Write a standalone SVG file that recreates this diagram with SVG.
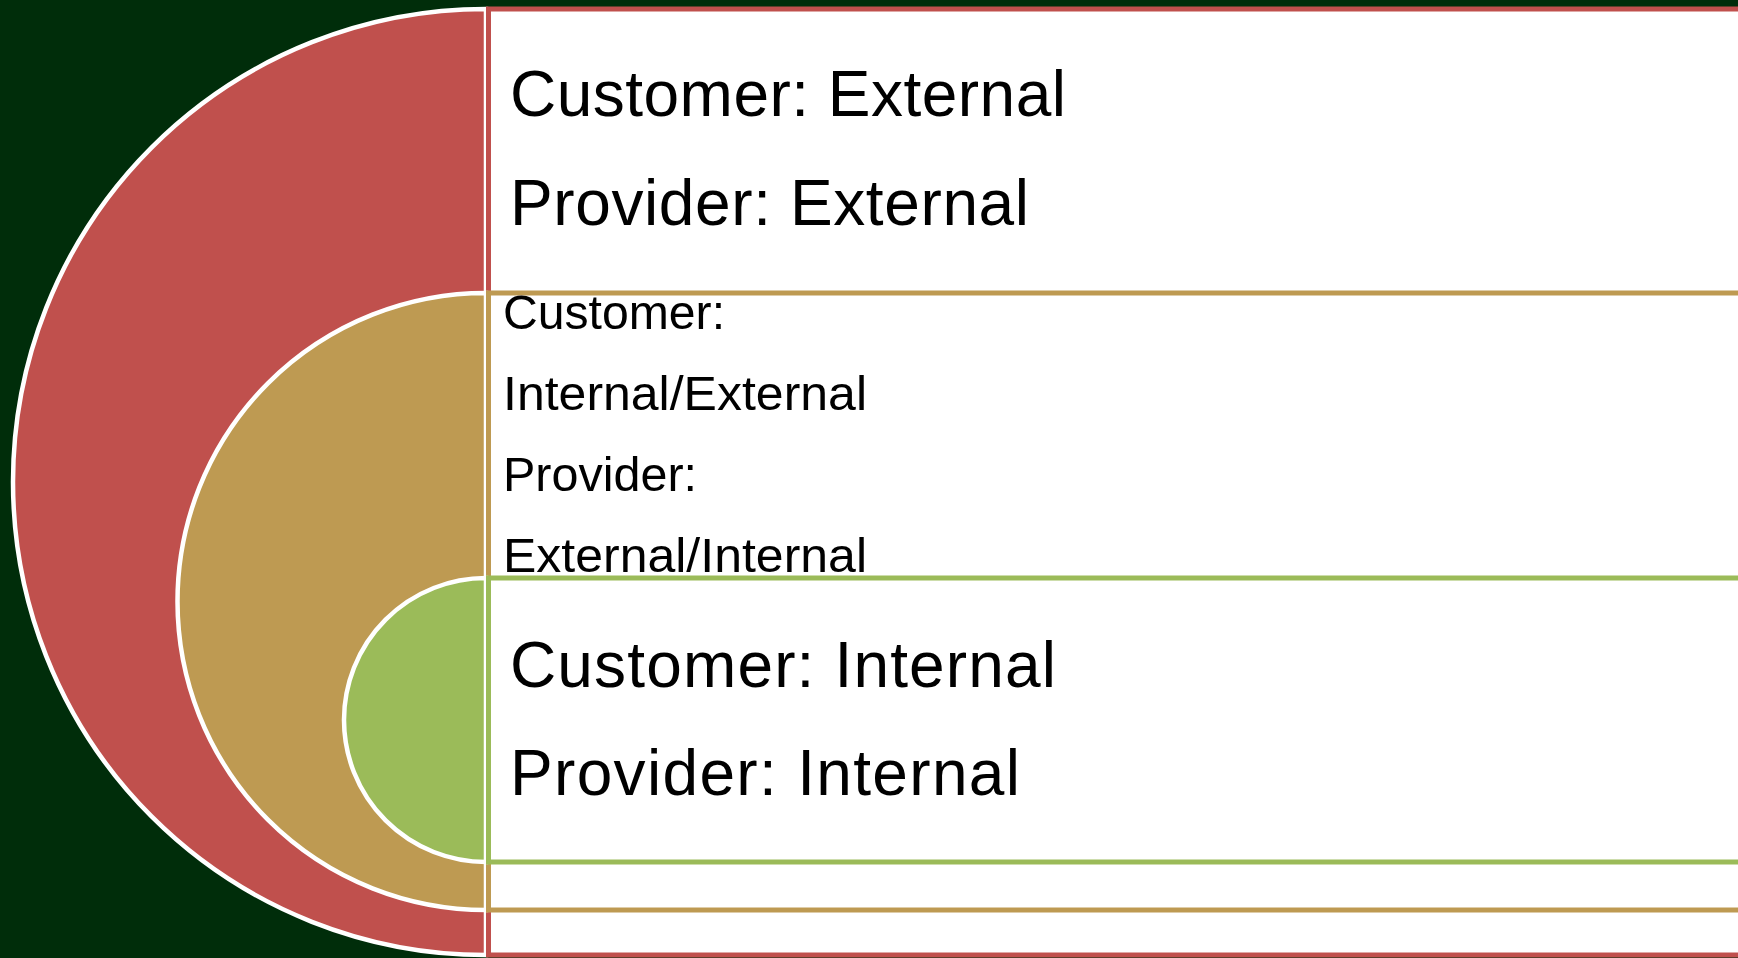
<svg xmlns="http://www.w3.org/2000/svg" width="1738" height="958" viewBox="0 0 1738 958">
<style>
.arc{stroke:#FFFFFF;stroke-width:4.5}
.box{fill:#FFFFFF;stroke-width:5}
.big{font-family:"Liberation Sans",Arial,sans-serif;font-size:64px;fill:#000000}
.small{font-family:"Liberation Sans",Arial,sans-serif;font-size:48px;fill:#000000}
</style>
<rect x="0" y="0" width="1738" height="958" fill="#002D0A"/>
<g id="node-outer">
<path class="arc" fill="#C0504D" d="M486,9 A473,473 0 0 0 486,955 Z"/>
<rect class="box" x="488.5" y="9" width="1260" height="946" stroke="#C0504D"/>
<text class="big" x="510" y="116" textLength="556">Customer: External</text>
<text class="big" x="510" y="225" textLength="519">Provider: External</text>
</g>
<g id="node-middle">
<path class="arc" fill="#BE9A52" d="M486,293 A308.5,308.5 0 0 0 486,910 Z"/>
<rect class="box" x="488.5" y="293" width="1260" height="617" stroke="#BE9A52"/>
<text class="small" x="503" y="329" textLength="222" lengthAdjust="spacingAndGlyphs">Customer:</text>
<text class="small" x="503" y="410" textLength="364" lengthAdjust="spacingAndGlyphs">Internal/External</text>
<text class="small" x="503" y="491" textLength="194" lengthAdjust="spacingAndGlyphs">Provider:</text>
<text class="small" x="503" y="572" textLength="364" lengthAdjust="spacingAndGlyphs">External/Internal</text>
</g>
<g id="node-inner">
<path class="arc" fill="#9BBB59" d="M486,578 A142,142 0 0 0 486,862 Z"/>
<rect class="box" x="488.5" y="578" width="1260" height="284" stroke="#9BBB59"/>
<text class="big" x="510" y="687" textLength="546">Customer: Internal</text>
<text class="big" x="510" y="795" textLength="510">Provider: Internal</text>
</g>
<g id="connectors"/>
</svg>
